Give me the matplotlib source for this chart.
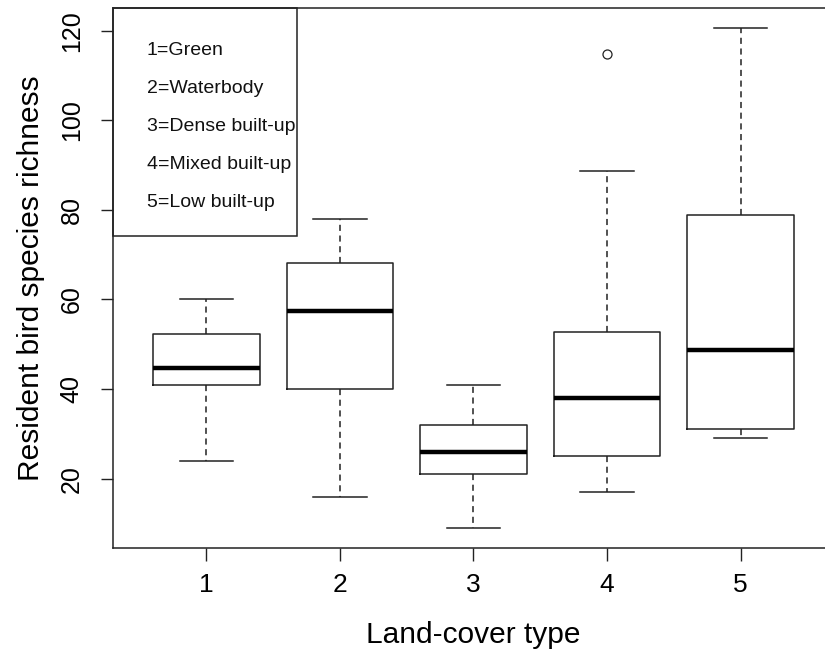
import matplotlib
matplotlib.use('Agg')
import matplotlib.pyplot as plt
from matplotlib.patches import Rectangle

plt.rcParams['font.family'] = ['Liberation Sans', 'DejaVu Sans']

# box statistics (R style boxplot)
groups = ['1', '2', '3', '4', '5']
whisker_low = [24, 16, 9, 17, 29]
q1 = [41, 40, 21, 25, 31]
medians = [44.8, 57.4, 26, 38.1, 48.8]
q3 = [52.2, 68.1, 31.9, 52.8, 78.8]
whisker_high = [60, 78, 41, 88.7, 120.7]
outliers = [[], [], [], [114.8], []]
legend_labels = ['1=Green', '2=Waterbody', '3=Dense built-up', '4=Mixed built-up', '5=Low built-up']

stats = []
for i in range(len(groups)):
    stats.append({'label': groups[i], 'whislo': whisker_low[i], 'q1': q1[i], 'med': medians[i],
                  'q3': q3[i], 'whishi': whisker_high[i], 'fliers': outliers[i]})

W, H = 825, 652
fig = plt.figure(figsize=(W / 100, H / 100), dpi=100)
# plot region in pixels (right edge runs past the image, as in the reference)
left, right, top, bottom = 113, 834, 7.5, 548
ax = fig.add_axes([left / W, 1 - bottom / H, (right - left) / W, (bottom - top) / H])

ax.bxp(stats, positions=range(1, 6), widths=0.8, capwidths=0.4, patch_artist=False,
       boxprops=dict(color='#222222', linewidth=1.1),
       medianprops=dict(color='black', linewidth=3.2, solid_capstyle='butt'),
       whiskerprops=dict(color='#222222', linewidth=1.1, linestyle=(0, (4, 3))),
       capprops=dict(color='#222222', linewidth=1.1),
       flierprops=dict(marker='o', markersize=6.5, markerfacecolor='none',
                       markeredgecolor='#222222', markeredgewidth=0.9))

# R default axis ranges: data range +/- 4%
all_vals = whisker_low + whisker_high + [v for o in outliers for v in o]
lo, hi = min(all_vals), max(all_vals)
pad = (hi - lo) * 0.04
ax.set_ylim(lo - pad, hi + pad)
ax.set_xlim(0.3, 5.7)

ax.set_xticks(range(1, 6))
ax.set_xticklabels(groups)
ax.set_yticks([20, 40, 60, 80, 100, 120])
ax.set_yticklabels(['20', '40', '60', '80', '100', '120'], rotation=90, va='center')
ax.tick_params(axis='both', length=9, width=1.0, color='#222222', direction='out')
ax.tick_params(axis='x', labelsize=19, pad=9)
ax.tick_params(axis='y', labelsize=18, pad=12)
for s in ax.spines.values():
    s.set_linewidth(1.1)
    s.set_color('#222222')

ax.set_xlabel('Land-cover type', fontsize=21.5, labelpad=17)
ax.set_ylabel('Resident bird species richness', fontsize=21.5, labelpad=11)

# legend box in the top-left corner, drawn like R's legend() without symbols
box_h = (236 - top) / (bottom - top)
box_w = (297 - left) / (right - left)
ax.add_patch(Rectangle((0, 1 - box_h), box_w, box_h, transform=ax.transAxes, fill=False,
                       edgecolor='#222222', linewidth=1.1, clip_on=False, zorder=5))
row_step = 38 / (bottom - top)
first_row = (bottom - 55) / (bottom - top)
text_x = (147 - left) / (right - left)
for i, lab in enumerate(legend_labels):
    ax.text(text_x, first_row - i * row_step, lab, transform=ax.transAxes, fontsize=14,
            va='baseline', ha='left', color='#111111')

fig.savefig('out.png', dpi=100)
